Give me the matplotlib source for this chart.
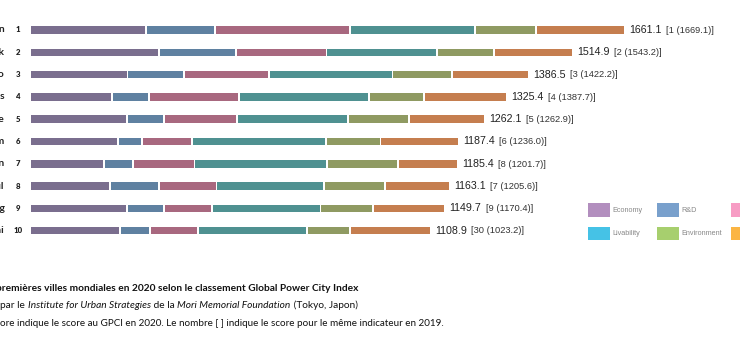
import numpy as np
import matplotlib
matplotlib.use("Agg")
import matplotlib.pyplot as plt
from matplotlib.patches import Rectangle

# GPCI 2020 top 10
cities = ["London", "New York", "Tokyo", "Paris", "Singapore",
          "Amsterdam", "Berlin", "Seoul", "Hong Kong", "Shanghai"]
ranks = [1, 2, 3, 4, 5, 6, 7, 8, 9, 10]
totals = [1661.1, 1514.9, 1386.5, 1325.4, 1262.1,
          1187.4, 1185.4, 1163.1, 1149.7, 1108.9]
prev_rank = [1, 2, 3, 4, 5, 6, 8, 7, 9, 30]
prev_score = [1669.1, 1543.2, 1422.2, 1387.7, 1262.9,
              1236.0, 1201.7, 1205.6, 1170.4, 1023.2]

economy = [325.0, 360.6, 272.0, 227.5, 270.4, 243.9, 206.3, 223.0, 270.2, 250.9]
rnd = [190.0, 213.6, 154.6, 99.4, 99.5, 63.7, 76.2, 132.0, 101.5, 78.9]
cultural = [379.8, 253.5, 237.2, 251.2, 204.2, 137.8, 169.3, 159.6, 129.9, 131.3]
livability = [351.3, 310.2, 346.3, 363.9, 308.2, 375.1, 370.6, 301.4, 303.5, 305.8]
environment = [168.2, 154.8, 164.1, 152.6, 169.0, 150.1, 196.9, 166.1, 145.0, 115.9]
accessibility = [246.8, 220.2, 212.3, 230.8, 210.8, 216.8, 166.1, 180.5, 199.6, 226.1]

segments = [economy, rnd, cultural, livability, environment, accessibility]
seg_colors = ["#7a6e8e", "#5f81a1", "#a8687f", "#4f9191", "#8f9a62", "#c57e4f"]

legend_labels = ["Economy", "R&D", "Cultural Interaction",
                 "Livability", "Environment", "Accessibility"]
legend_colors = ["#b28ebe", "#79a0cc", "#f79cc4", "#45c2e6", "#a7cf6e", "#fbb544"]

W, H = 740, 350
fig = plt.figure(figsize=(W / 100, H / 100), dpi=100)
ax = fig.add_axes([0, 0, 1, 1])

# map data so that 0 sits at x=31px, 0.3513 px per point
px = 0.3513
x0 = 31
ax.set_xlim(-x0 / px, (W - x0) / px)
row_px, top_px = 22.3, 30
ax.set_ylim((H - top_px) / row_px, -top_px / row_px)
ax.axis("off")

gap = 1.9 / px
y = np.arange(len(cities))
left = np.zeros(len(cities))
for k, (vals, col) in enumerate(zip(segments, seg_colors)):
    vals = np.array(vals)
    ax.barh(y, vals, left=left + k * gap, height=0.34, color=col, linewidth=0)
    left += vals
ends = left + (len(segments) - 1) * gap

for i in range(len(cities)):
    ax.text(-x0 / px + 4.5 / px, i, cities[i], ha="right", va="center",
            fontsize=7.4, fontweight="bold", family="Lato", color="#222222")
    ax.text(-x0 / px + 18 / px, i, str(ranks[i]), ha="center", va="center",
            fontsize=5.6, fontweight="heavy", family="Lato", color="#222222")
    t = ax.annotate(f"{totals[i]:.1f}", xy=(ends[i], i), xytext=(3.8, 0),
                    textcoords="offset points", ha="left", va="center",
                    fontsize=7.7, family="Liberation Sans", color="#222222")
    ax.annotate(f"[{prev_rank[i]} ({prev_score[i]:.1f})]", xy=(1, 0.5),
                xycoords=t, xytext=(3.0, -0.2), textcoords="offset points",
                ha="left", va="center", fontsize=6.7, family="Liberation Sans",
                color="#333333")

# legend (cropped on the right like the original)
leg_x = [588.3, 657.3, 730.7]
leg_y = [210, 233.3]
for i, (lab, col) in enumerate(zip(legend_labels, legend_colors)):
    cx = leg_x[i % 3]
    cy = leg_y[i // 3]
    fig.add_artist(Rectangle((cx / W, 1 - (cy + 6.8) / H), 21.5 / W, 13.6 / H,
                             transform=fig.transFigure, color=col, lw=0))
    fig.text((cx + 24.5) / W, 1 - cy / H, lab, ha="left", va="center",
             fontsize=5.2, family="Liberation Sans", color="#888888")

# footnote, cropped on the left like the original
renderer = fig.canvas.get_renderer()


def text_run(x_px, y_px, parts, size, weight="normal"):
    # write consecutive pieces of text (normal / italic) on one baseline
    for txt, st in parts:
        t = fig.text(x_px / W, 1 - y_px / H, txt, ha="left", va="baseline",
                     family="Lato", fontsize=size, style=st, fontweight=weight,
                     color="#111111")
        x_px = t.get_window_extent(renderer).x1


fig.text(-3.5 / W, 1 - 291 / H, "Les 10 ", ha="right", va="baseline",
         family="Lato", fontsize=7.3, fontweight="bold", color="#111111")
text_run(-3.5, 291, [("premières villes mondiales en 2020 selon le classement Global Power City Index", "normal")],
         7.3, "bold")

fig.text(0.5 / W, 1 - 308.5 / H, "Établi ", ha="right", va="baseline",
         family="Lato", fontsize=7.3, color="#111111")
text_run(0.5, 308.5, [("par le ", "normal"), ("Institute for Urban Strategies", "italic"),
                      (" de la ", "normal"), ("Mori Memorial Foundation", "italic"),
                      (" (Tokyo, Japon)", "normal")], 7.3)

fig.text(-0.5 / W, 1 - 325.5 / H, "Le sc", ha="right", va="baseline",
         family="Lato", fontsize=7.1, color="#111111")
text_run(-0.5, 325.5, [("ore indique le score au GPCI en 2020. Le nombre [ ] indique le score pour le même indicateur en 2019.", "normal")],
         7.1)

fig.savefig("out.png", dpi=100, facecolor="white")
